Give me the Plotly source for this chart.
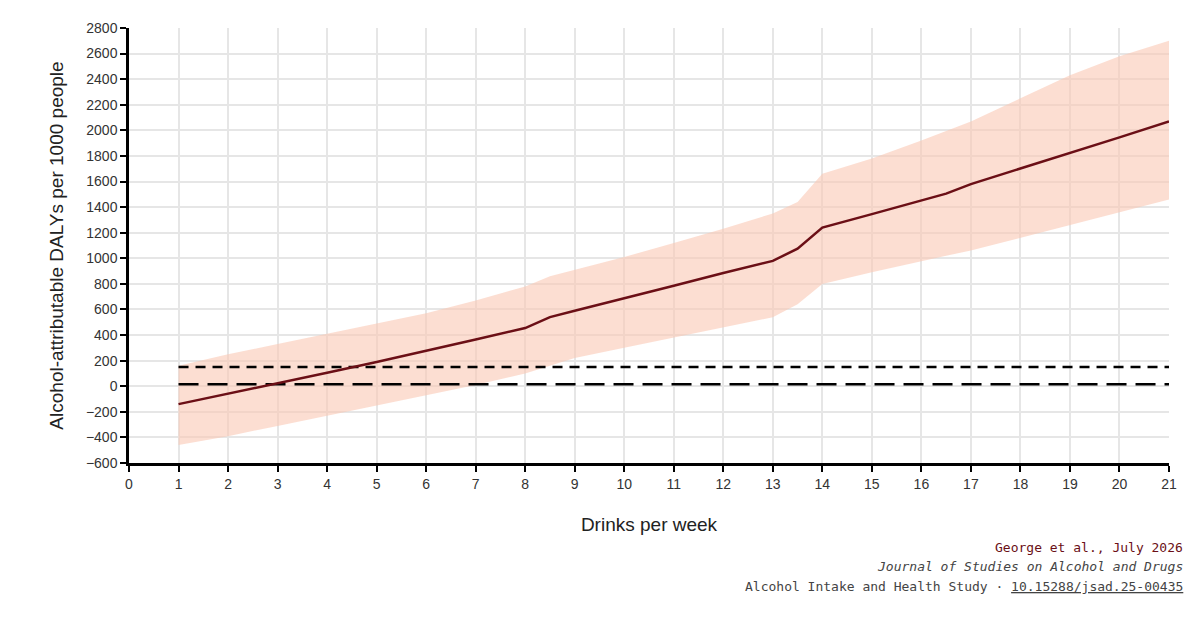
import plotly.graph_objects as go

x = [1, 2, 3, 4, 5, 6, 7, 8, 8.5, 9, 10, 11, 12, 13, 13.5, 14, 15, 16, 16.5, 17, 18, 19, 20, 21]
mean = [-140, -60, 25, 105, 190, 275, 365, 455, 540, 590, 685, 785, 885, 980, 1075, 1240, 1345, 1450, 1505, 1580, 1700, 1820, 1945, 2070]
upper = [160, 250, 330, 410, 490, 570, 670, 780, 860, 910, 1010, 1120, 1230, 1350, 1440, 1660, 1780, 1920, 1995, 2070, 2250, 2430, 2580, 2700]
lower = [-460, -390, -310, -230, -150, -70, 10, 100, 160, 220, 300, 380, 460, 540, 640, 800, 890, 980, 1020, 1060, 1160, 1260, 1360, 1460]
ref_upper = 150
ref_lower = 15

fig = go.Figure()
fig.add_trace(go.Scatter(x=x, y=upper, mode="lines", line=dict(width=0), showlegend=False, hoverinfo="skip"))
fig.add_trace(go.Scatter(x=x, y=lower, mode="lines", line=dict(width=0), fill="tonexty",
                         fillcolor="rgba(250,200,180,0.6)", showlegend=False, hoverinfo="skip"))
fig.add_trace(go.Scatter(x=[1, 21], y=[ref_upper, ref_upper], mode="lines",
                         line=dict(color="black", width=2.5, dash="10px,7px"), showlegend=False))
fig.add_trace(go.Scatter(x=[1, 21], y=[ref_lower, ref_lower], mode="lines",
                         line=dict(color="black", width=2.5, dash="20px,9px"), showlegend=False))
fig.add_trace(go.Scatter(x=x, y=mean, mode="lines", line=dict(color="#6b0f16", width=2.5), showlegend=False))

axis_font = dict(family="Liberation Sans, Arial", size=14, color="#333")
fig.update_layout(
    width=1199, height=628, plot_bgcolor="white", paper_bgcolor="white",
    margin=dict(l=121, r=38, t=14, b=173),
    xaxis=dict(range=[0, 21], dtick=1, tick0=0, showgrid=True, gridcolor="#e6e6e6", gridwidth=1.5,
               showline=True, linecolor="black", linewidth=2.5, ticks="outside", ticklen=6,
               tickcolor="black", tickwidth=2, tickfont=axis_font, zeroline=False,
               title=dict(text="Drinks per week", font=dict(family="Liberation Sans, Arial", size=19, color="#222"), standoff=28)),
    yaxis=dict(range=[-600, 2800], dtick=200, tick0=-600, showgrid=True, gridcolor="#e6e6e6", gridwidth=1.5,
               showline=True, linecolor="black", linewidth=2.5, ticks="outside", ticklen=6,
               tickcolor="black", tickwidth=2, tickfont=axis_font, zeroline=False,
               title=dict(text="Alcohol-attributable DALYs per 1000 people", font=dict(family="Liberation Sans, Arial", size=19, color="#222"), standoff=18)),
)
mono = "DejaVu Sans Mono, monospace"
fig.add_annotation(text="George et al., July 2026", xref="paper", yref="paper", x=1.015, y=-0.215,
                   xanchor="right", showarrow=False, font=dict(family=mono, size=13, color="#6b0f16"))
fig.add_annotation(text="<i>Journal of Studies on Alcohol and Drugs</i>", xref="paper", yref="paper", x=1.015, y=-0.26,
                   xanchor="right", showarrow=False, font=dict(family=mono, size=13, color="#444"))
fig.add_annotation(text="Alcohol Intake and Health Study · <u>10.15288/jsad.25-00435</u>", xref="paper", yref="paper",
                   x=1.015, y=-0.305, xanchor="right", showarrow=False, font=dict(family=mono, size=13, color="#444"))
fig.write_html("out.html")
